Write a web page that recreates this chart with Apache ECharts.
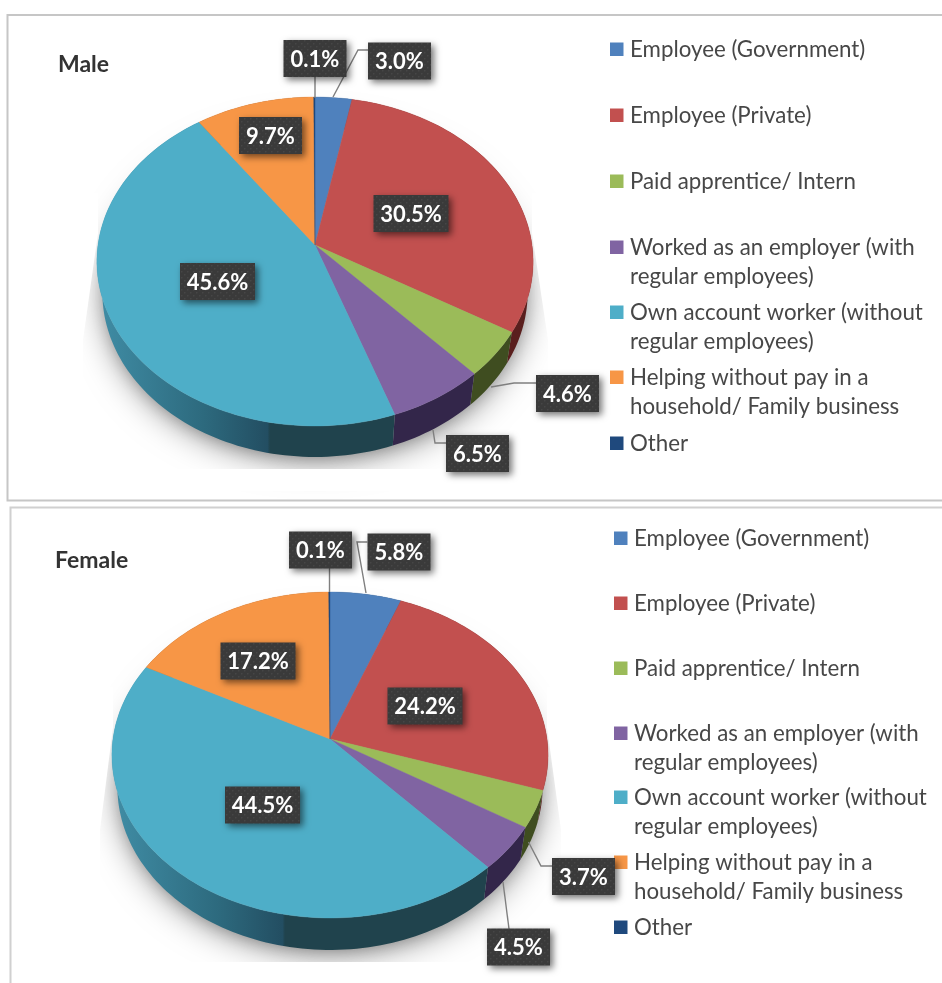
<!DOCTYPE html>
<html>
<head>
<meta charset="utf-8">
<style>html,body{margin:0;padding:0;background:#fff}#c{width:942px;height:983px}</style>
<script src="https://cdn.jsdelivr.net/npm/echarts@6/dist/echarts.min.js"></script>
</head>
<body>
<div id="c"></div>
<script>
// ---- data ----
const categories = ['Employee (Government)','Employee (Private)','Paid apprentice/ Intern',
  'Worked as an employer (with\nregular employees)','Own account worker (without\nregular employees)',
  'Helping without pay in a\nhousehold/ Family business','Other'];
const maleValues = [3.0,30.5,4.6,6.5,45.6,9.7,0.1];
const femaleValues = [5.8,24.2,3.7,4.5,44.5,17.2,0.1];

// ---- styles ----
const topColors = ['#4f81bd','#c2504f','#9bbb59','#8064a2','#4eaec8','#f79646','#1f497d'];
const wallColors = ['#2a4564','#5a1f1e','#3f4d20','#33264a',null,'#8a5220','#12294a'];

// ---- layout ----
const malePanel = {
  title:'Male', titleX:58, titleY:53,
  cx:315, cy:245, a:217, b:162.8, k:-0.1003, depth:31,
  legendSwatchX:610, legendTextX:630, legendRows:[49,115,181,247,312,377,443],
  shadow:{left:83, right:548, top:233, knee:340, bottom:469},
  labels:[[399.5,61],[411,213.5],[567.5,393.5],[477.5,453.5],[217.5,281.5],[270.5,135.5],[315,58.5]],
  leaders:[[[368,50],[358,50],[333,97]],null,[[536,383],[514,383],[491,387]],[[446,443],[435,443],[433,430]],null,null,[[315,77],[315,98]]]
};
const femalePanel = {
  title:'Female', titleX:55, titleY:549,
  cx:330, cy:739, a:217, b:161.4, k:-0.0982, depth:32,
  legendSwatchX:614, legendTextX:634, legendRows:[538,603,668,733,797,862,927],
  shadow:{left:100, right:561, top:727, knee:830, bottom:962},
  labels:[[399,552],[425,706],[583.5,876.5],[518.5,947],[262.5,805],[258,661],[320.5,550]],
  leaders:[[[367.5,542],[357,542],[366,593]],null,[[552,866],[541,866],[528.5,842]],[[509,929],[503,882]],null,null,[[329.5,568],[329.5,592]]]
};

const chart = echarts.init(document.getElementById('c'), null, {renderer:'canvas', width:942, height:983});

// dotted texture of the label boxes
const tex = document.createElement('canvas'); tex.width = 6; tex.height = 6;
(function(){const g=tex.getContext('2d');g.fillStyle='#3a3a3a';g.fillRect(0,0,6,6);
  g.fillStyle='#464646';g.fillRect(1,1,1.5,1.5);g.fillRect(4,4,1.5,1.5);})();

// perspective projection of the unit disc
function project(p, angDeg, scale){
  const t = angDeg*Math.PI/180, x = Math.sin(t), y = -Math.cos(t), w = 1 + p.k*y;
  const s = scale==null?1:scale;
  return [p.cx + s*p.a*x/w, p.cy + p.b*y/w];
}
function arc(p, a0, a1, scale, dy){
  const n = Math.max(2, Math.ceil((a1-a0)/1.5)+1), pts = [];
  for(let i=0;i<n;i++){
    const q = project(p, a0+(a1-a0)*i/(n-1), scale);
    pts.push([q[0], q[1]+(dy||0)]);
  }
  return pts;
}
function sliceAngles(values, i){
  const tot = values.reduce((s,v)=>s+v,0);
  let c = 0; for(let j=0;j<i;j++) c += values[j];
  return [c/tot*360, (c+values[i])/tot*360];
}
const rows = vals => vals.map((v,i)=>({name:categories[i].replace('\n',' '), value:[v]}));

function panelSeries(p, values){
  const out = [];
  // soft ground shadow, cut by hard edges as in the picture
  out.push({type:'custom', name:p.title+' shadow', coordinateSystem:'none', silent:true, z:1, data:[[0]],
    renderItem(){
      const s=p.shadow, rim=arc(p,0,360,0.96,p.depth-4);
      const whiteL=[[s.left-40,s.top-40],[p.cx-p.a,s.top-40],[p.cx-p.a,s.top],[s.left,s.knee],[s.left,s.bottom+40],[s.left-40,s.bottom+40]];
      const whiteR=[[s.right+40,s.top-40],[p.cx+p.a,s.top-40],[p.cx+p.a,s.top],[s.right,s.knee],[s.right,s.bottom+40],[s.right+40,s.bottom+40]];
      const whiteB=[[s.left-40,s.bottom],[s.right+40,s.bottom],[s.right+40,s.bottom+22],[s.left-40,s.bottom+22]];
      const c=[];
      c.push({type:'polygon',shape:{points:rim},style:{fill:'#b0b0b0',shadowBlur:34,shadowColor:'rgba(0,0,0,0.5)',shadowOffsetX:0,shadowOffsetY:6}});
      c.push({type:'polygon',shape:{points:rim},style:{fill:'#b0b0b0',shadowBlur:16,shadowColor:'rgba(0,0,0,0.22)',shadowOffsetX:0,shadowOffsetY:4}});
      [whiteL,whiteR,whiteB].forEach(w=>c.push({type:'polygon',shape:{points:w},style:{fill:'#fff'}}));
      return {type:'group',children:c};
    }});
  // side wall
  out.push({type:'custom', name:p.title+' wall', coordinateSystem:'none', silent:true, z:2, data:rows(values),
    renderItem(params){
      const i=params.dataIndex, r=sliceAngles(values,i);
      const top=arc(p,r[0],r[1]), bot=arc(p,r[0],r[1],0.975,p.depth).reverse();
      const L=p.cx-p.a;
      const fill = wallColors[i] || new echarts.graphic.LinearGradient(L+5,0,L+172,0,[
        {offset:0,color:'#3f8ba3'},{offset:0.6,color:'#2d6a7e'},{offset:0.985,color:'#234e62'},{offset:1,color:'#20434d'}],true);
      return {type:'polygon',shape:{points:top.concat(bot)},style:{fill}};
    }});
  // top face
  out.push({type:'custom', name:p.title, coordinateSystem:'none', z:3, data:rows(values),
    renderItem(params,api){
      const i=params.dataIndex, r=sliceAngles(values,i);
      return {type:'polygon',shape:{points:[[p.cx,p.cy]].concat(arc(p,r[0],r[1]))},
        style:{fill:topColors[i],stroke:topColors[i],lineWidth:0.4}};
    }});
  // leader lines
  out.push({type:'custom', name:p.title+' leaders', coordinateSystem:'none', silent:true, z:4, data:rows(values),
    renderItem(params){
      const l=p.leaders[params.dataIndex];
      if(!l) return {type:'group',children:[]};
      return {type:'polyline',shape:{points:l},style:{fill:'none',stroke:'#7f7f7f',lineWidth:1.4}};
    }});
  // value labels
  out.push({type:'custom', name:p.title+' labels', coordinateSystem:'none', silent:true, z:5, data:rows(values),
    renderItem(params,api){
      const i=params.dataIndex, c=p.labels[i], txt=api.value(0).toFixed(1)+'%';
      const w=txt.length>4?75:63, h=37;
      return {type:'group',children:[
        {type:'rect',shape:{x:c[0]-w/2,y:c[1]-h/2,width:w,height:h},
          style:{fill:{image:tex,repeat:'repeat'},shadowBlur:7,shadowOffsetX:3,shadowOffsetY:3,shadowColor:'rgba(0,0,0,0.55)'}},
        {type:'text',z2:2,style:{text:txt,x:c[0],y:c[1]+1,align:'center',verticalAlign:'middle',
          fill:'#fff',font:'bold 22px Lato, sans-serif'}}
      ]};
    }});
  // legend
  out.push({type:'custom', name:p.title+' legend', coordinateSystem:'none', silent:true, z:4, data:categories.map(c=>({name:c.replace('\n',' '),value:[0]})),
    renderItem(params){
      const i=params.dataIndex, y=p.legendRows[i], lines=categories[i].split('\n');
      const ch=[{type:'rect',shape:{x:p.legendSwatchX,y:y-6.5,width:13.5,height:13.5},style:{fill:topColors[i]}}];
      lines.forEach((t,j)=>ch.push({type:'text',style:{text:t,x:p.legendTextX,y:y+1+j*29,align:'left',verticalAlign:'middle',
        fill:'#474747',font:'22.3px Lato, sans-serif'}}));
      return {type:'group',children:ch};
    }});
  return out;
}

chart.setOption({
  animation:false,
  backgroundColor:'#fff',
  title:[malePanel,femalePanel].map(p=>({text:p.title,left:p.titleX,top:p.titleY,padding:0,
    textStyle:{fontFamily:'Lato, sans-serif',fontWeight:'bold',fontSize:23,color:'#333'}})),
  graphic:[
    {type:'polyline',z:10,shape:{points:[[960,15],[7.5,15],[7.5,500.5],[960,500.5]]},style:{fill:'none',stroke:'#c6c6c6',lineWidth:2}},
    {type:'polyline',z:10,shape:{points:[[960,507.5],[10.5,507.5],[10.5,990]]},style:{fill:'none',stroke:'#d0d0d0',lineWidth:2}}
  ],
  series:[...panelSeries(malePanel,maleValues),...panelSeries(femalePanel,femaleValues)]
});
</script>
</body>
</html>
